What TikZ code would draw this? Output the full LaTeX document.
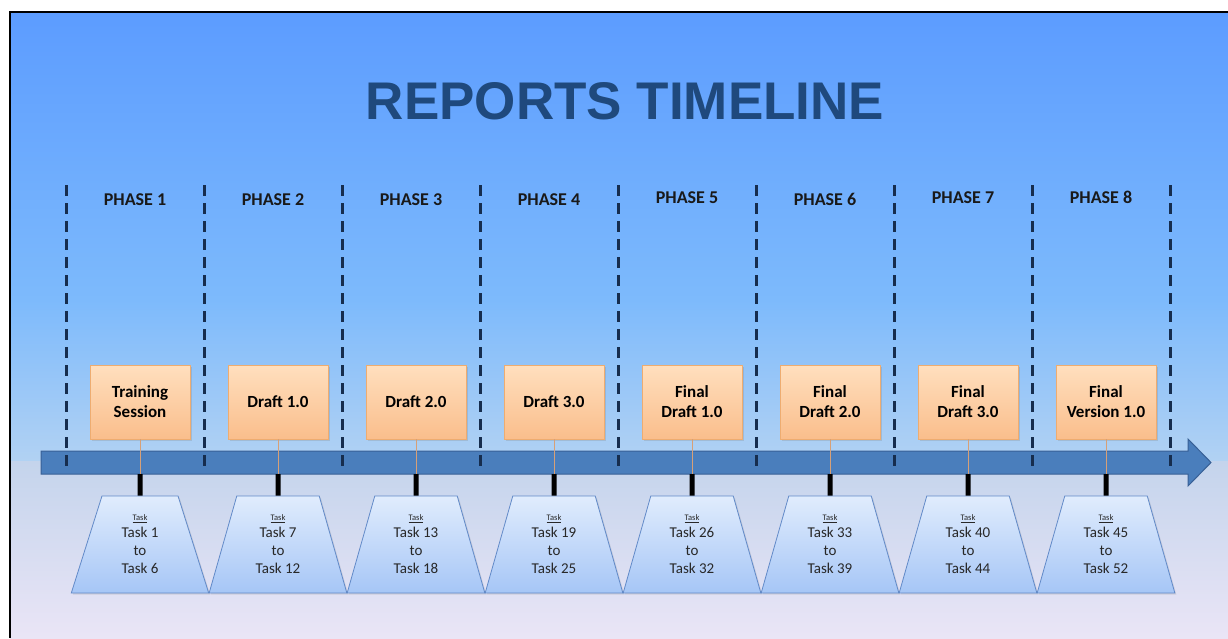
\documentclass[tikz,border=0pt]{standalone}
\usepackage{fontspec}
\setmainfont{Carlito}
\newfontfamily\titlefont{Liberation Sans}
\usetikzlibrary{shapes.geometric,shadows}
\definecolor{bgA}{RGB}{92,156,255}
\definecolor{bgB}{RGB}{125,186,252}
\definecolor{bgC}{RGB}{178,210,243}
\definecolor{bgD}{RGB}{196,212,236}
\definecolor{bgE}{RGB}{234,229,246}
\definecolor{boxtop}{RGB}{255,223,190}
\definecolor{boxbot}{RGB}{250,190,140}
\definecolor{boxline}{RGB}{238,172,112}
\definecolor{traptop}{RGB}{224,236,253}
\definecolor{trapbot}{RGB}{166,198,246}
\definecolor{trapline}{RGB}{98,138,200}
\definecolor{bandfill}{RGB}{74,126,188}
\definecolor{bandline}{RGB}{56,96,150}
\definecolor{navy}{RGB}{22,45,78}
\definecolor{tiecolor}{RGB}{214,160,120}
\definecolor{titleblue}{RGB}{31,73,125}
\definecolor{textgray}{RGB}{40,40,40}
\begin{document}
\begin{tikzpicture}[x=1pt,y=-1pt,
  boxstyle/.style={draw=boxline, line width=0.8pt, top color=boxtop, bottom color=boxbot,
    minimum width=100pt, minimum height=74pt, inner sep=2pt, align=center,
    font=\fontsize{17}{20}\selectfont\bfseries, text=black,
    drop shadow={shadow xshift=1.5pt, shadow yshift=-1.5pt, opacity=0.25}},
  trapstyle/.style={trapezium, trapezium angle=75.8, trapezium stretches=true,
    minimum width=138pt, minimum height=97pt, inner sep=0pt,
    draw=trapline, line width=0.8pt, top color=traptop, bottom color=trapbot,
    align=center, font=\fontsize{15}{18}\selectfont, text=textgray,
    drop shadow={shadow xshift=1.5pt, shadow yshift=-1.5pt, opacity=0.2}},
  phasestyle/.style={font=\fontsize{18}{20}\selectfont\bfseries, text=black!90, anchor=base},
  divider/.style={draw=navy, line width=3pt, dash pattern=on 11pt off 7pt},
  stemline/.style={line width=5pt, draw=black},
  tie/.style={draw=tiecolor, line width=1pt}
]
\useasboundingbox (0,0) rectangle (1228,638);
% background
\fill[top color=bgA, bottom color=bgB] (10,12) rectangle (1228,300);
\fill[top color=bgB, bottom color=bgC] (10,299.5) rectangle (1228,462);
\fill[top color=bgD, bottom color=bgE] (10,461.5) rectangle (1228,638);
\draw[line width=1.5pt] (10,638) -- (10,12) -- (1228,12);
% title
\node[font=\titlefont\bfseries\fontsize{53}{60}\selectfont, text=titleblue, anchor=base] (title) at (625,119) {REPORTS TIMELINE};
% timeline arrow
\draw[fill=bandfill, draw=bandline, line width=1pt]
  (41,451) -- (1188,451) -- (1188,439) -- (1211,462.5) -- (1188,486) -- (1188,474) -- (41,474) -- cycle;
% dividers
\foreach \k in {0,...,8}
  \draw[divider] (66+138*\k,185) -- (66+138*\k,473);
% phase labels
\foreach \i/\yb in {1/205,2/205,3/205,4/205,5/203,6/205,7/203,8/203}
  \node[phasestyle] (phase\i) at (-3+138*\i,\yb) {PHASE \i};
% boxes, ties, stems, trapezoids
\foreach \bx/\ta/\tb [count=\i, evaluate=\i as \c using 2+138*\i] in
  {{Training\\Session}/1/6, {Draft 1.0}/7/12, {Draft 2.0}/13/18, {Draft 3.0}/19/25,
   {Final\\Draft 1.0}/26/32, {Final\\Draft 2.0}/33/39, {Final\\Draft 3.0}/40/44,
   {Final\\Version 1.0}/45/52}
{
  \node[boxstyle] (box\i) at (\c,402) {\bx};
  \coordinate (low\i) at (\c,474);
  \node[trapstyle] (trap\i) at (\c,544.5)
    {{\fontsize{8.5}{8.5}\selectfont\underline{Task}}\\[-1pt]Task \ta\\to\\Task \tb};
  \draw[tie] (box\i.south) -- (low\i);
  \draw[stemline] (low\i) -- (trap\i.north);
}
\end{tikzpicture}
\end{document}
